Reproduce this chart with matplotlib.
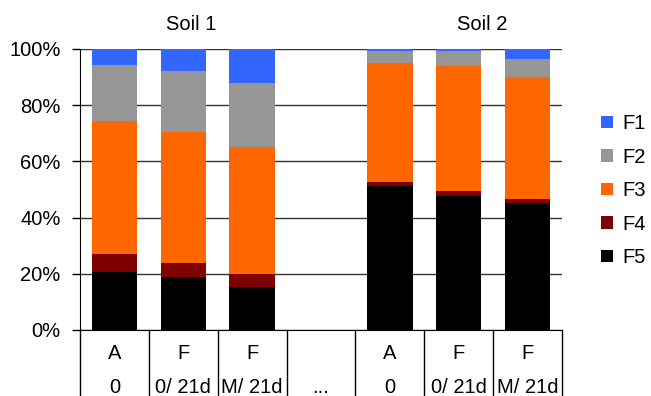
import numpy as np
import matplotlib
matplotlib.use("Agg")
import matplotlib.pyplot as plt
from matplotlib.patches import Patch

plt.rcParams['font.family'] = ['Liberation Sans', 'DejaVu Sans']

# bar slots (slot 3 is the empty "..." gap)
positions = [0, 1, 2, 4, 5, 6]
row1 = ["A", "F", "F", "", "A", "F", "F"]
row2 = ["0", "0/ 21d", "M/ 21d", "...", "0", "0/ 21d", "M/ 21d"]

# fractions in % (bottom to top: F5, F4, F3, F2, F1)
F5 = [20.8, 18.8, 15.2, 51.3, 47.7, 45.1]
F4 = [6.2, 5.1, 4.6, 1.5, 1.6, 1.6]
F3 = [47.2, 46.7, 45.3, 42.2, 44.8, 43.2]
F2 = [20.2, 21.4, 22.8, 4.2, 5.2, 6.6]
F1 = [5.6, 8.0, 12.1, 0.8, 0.7, 3.5]

names = ["F5", "F4", "F3", "F2", "F1"]
series = [F5, F4, F3, F2, F1]
colors = ["#000000", "#800000", "#FF6600", "#969696", "#3366FF"]

fs = 14.5
fig = plt.figure(figsize=(6.51, 3.96), dpi=100)
ax = fig.add_axes([0.1229, 0.1667, 0.7404, 0.7096])

bottom = np.zeros(len(positions))
for name, vals, c in zip(names, series, colors):
    ax.bar(positions, vals, width=0.66, bottom=bottom, color=c, label=name, zorder=3)
    bottom += np.array(vals)

ax.set_xlim(-0.5, 6.5)
ax.set_ylim(0, 100)
ax.set_yticks([0, 20, 40, 60, 80, 100])
ax.set_yticklabels([f"{v}%" for v in range(0, 101, 20)], fontsize=fs)
ax.set_xticks([])
ax.yaxis.grid(True, color="#333333", linewidth=1, zorder=0)
ax.tick_params(axis='y', direction='out', length=6, width=1, color='black', pad=8)
for s in ["top", "right"]:
    ax.spines[s].set_visible(False)
ax.spines["left"].set_color("black")
ax.spines["bottom"].set_color("black")

# category table below the axis
trans = ax.get_xaxis_transform()
for k in range(8):
    ax.plot([k - 0.5, k - 0.5], [0, -0.25], color="black", lw=1,
            transform=trans, clip_on=False)
for k in range(7):
    ax.text(k, -0.082, row1[k], transform=trans, ha="center", va="center", fontsize=fs)
    ax.text(k, -0.206, row2[k], transform=trans, ha="center", va="center", fontsize=fs)

fig.text(191 / 651, 1 - 24 / 396, "Soil 1", ha="center", va="center", fontsize=fs)
fig.text(482 / 651, 1 - 24 / 396, "Soil 2", ha="center", va="center", fontsize=fs)

handles = [Patch(facecolor=c, label=n) for n, c in zip(names, colors)][::-1]
fig.legend(handles=handles, loc="upper left", bbox_to_anchor=(583 / 651, 1 - 96 / 396),
           frameon=False, fontsize=fs, handlelength=0.6, handleheight=0.6,
           handletextpad=0.45, labelspacing=0.72)

fig.savefig("out.png", dpi=100)
